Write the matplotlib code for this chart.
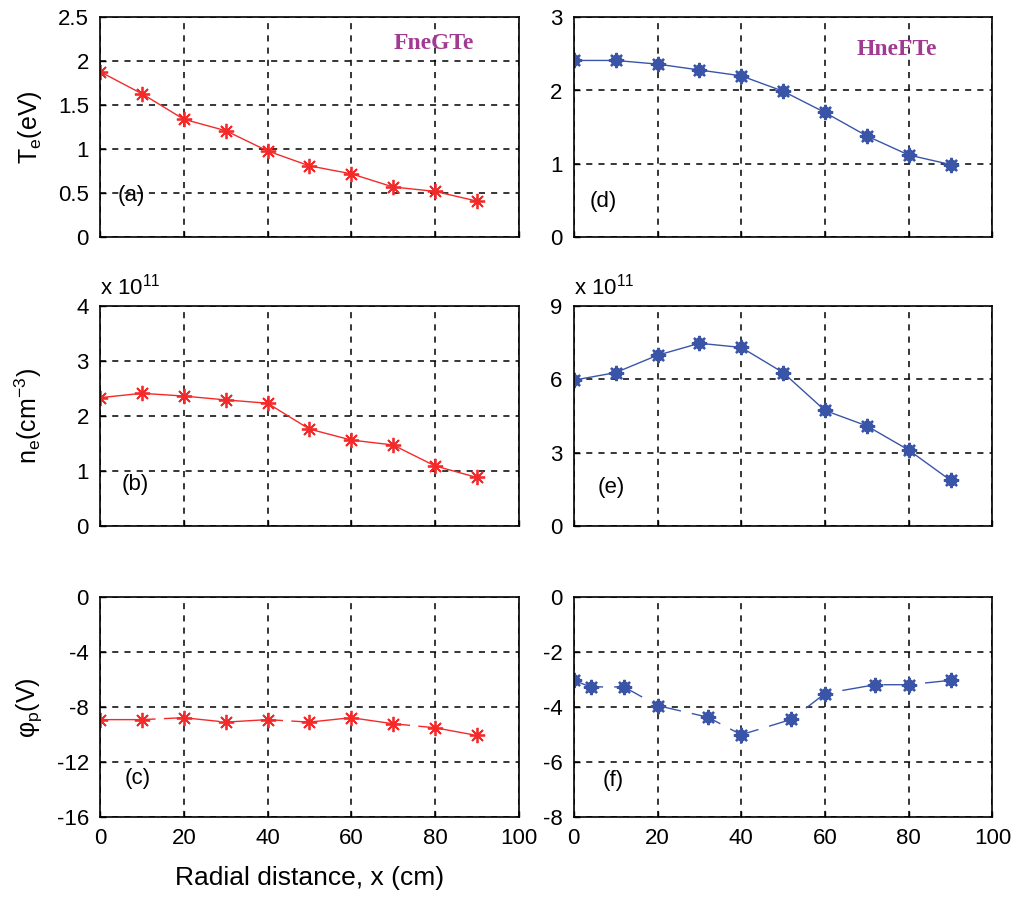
import numpy as np
import matplotlib
matplotlib.use("Agg")
import matplotlib.pyplot as plt

plt.rcParams['font.family'] = ['Liberation Sans', 'DejaVu Sans']
plt.rcParams['mathtext.fontset'] = 'custom'
plt.rcParams['mathtext.rm'] = 'Liberation Sans'
plt.rcParams['mathtext.it'] = 'Liberation Sans:italic'
plt.rcParams['axes.unicode_minus'] = False

# radial positions (cm)
x_left = [0, 10, 20, 30, 40, 50, 60, 70, 80, 90]
x_right = [0, 10, 20, 30, 40, 50, 60, 70, 80, 90]
x_phi_right = [0, 4, 12, 20, 32, 40, 52, 60, 72, 80, 90]

# FneGTe (left, red)
te_left = [1.88, 1.63, 1.34, 1.21, 0.98, 0.81, 0.72, 0.57, 0.52, 0.41]
ne_left = [2.33, 2.41, 2.36, 2.29, 2.23, 1.76, 1.56, 1.47, 1.09, 0.88]   # x 1e11
phi_left = [-8.9, -8.9, -8.76, -9.08, -8.9, -9.08, -8.76, -9.2, -9.49, -10.05]

# HneFTe (right, blue)
te_right = [2.41, 2.41, 2.36, 2.28, 2.20, 1.99, 1.70, 1.38, 1.12, 0.99]
ne_right = [5.96, 6.27, 6.98, 7.47, 7.30, 6.27, 4.72, 4.09, 3.10, 1.86]  # x 1e11
phi_right = [-3.02, -3.26, -3.26, -3.94, -4.36, -5.0, -4.44, -3.50, -3.18, -3.18, -3.02]

red = '#f42a2a'
blue = '#3a55a8'
magenta = '#a23a92'
asterisk = (8, 2, 0)

fig = plt.figure(figsize=(10.21, 9.05), dpi=100)

lefts = [0.098, 0.562]
width = 0.410
bottoms = [0.738, 0.419, 0.097]
height = 0.243

def make_ax(col, row):
    ax = fig.add_axes([lefts[col], bottoms[row], width, height])
    ax.set_xlim(0, 100)
    ax.set_xticks([0, 20, 40, 60, 80, 100])
    ax.grid(True, color='black', linestyle=(0, (4, 4)), linewidth=1.1)
    ax.set_axisbelow(True)
    ax.tick_params(direction='in', length=4, width=1, labelsize=16, pad=8)
    for s in ax.spines.values():
        s.set_linewidth(1.2)
    if row < 2:
        ax.set_xticklabels([])
    return ax

def panel_label(ax, txt, fx, fy):
    ax.text(fx, fy, txt, transform=ax.transAxes, ha='center', va='center',
            fontsize=16)

def red_line(ax, x, y, **kw):
    ax.plot(x, y, color=red, lw=1.0, marker=asterisk, ms=11, mew=1.3, **kw)

def blue_line(ax, x, y, **kw):
    ax.plot(x, y, color=blue, lw=1.0, marker='8', ms=8, **kw)
    ax.plot(x, y, color=blue, lw=0, marker=asterisk, ms=11, mew=1.6)

# (a)
ax = make_ax(0, 0)
red_line(ax, x_left, te_left)
ax.set_ylim(0, 2.5)
ax.set_yticks([0, 0.5, 1, 1.5, 2, 2.5])
ax.set_yticklabels(['0', '0.5', '1', '1.5', '2', '2.5'])
ax.set_ylabel(r'T$_\mathrm{e}$(eV)', fontsize=18)
ax.yaxis.set_label_coords(-0.135, 0.5)
panel_label(ax, '(a)', 0.075, 0.19)
ax.text(0.797, 0.88, 'FneGTe', transform=ax.transAxes, ha='center', va='center',
        fontsize=17, fontweight='bold', color=magenta,
        family=['Liberation Serif', 'DejaVu Serif'])

# (b)
ax = make_ax(0, 1)
red_line(ax, x_left, ne_left)
ax.set_ylim(0, 4)
ax.set_yticks([0, 1, 2, 3, 4])
ax.set_ylabel(r'n$_\mathrm{e}$(cm$^{-3}$)', fontsize=18)
ax.yaxis.set_label_coords(-0.135, 0.5)
ax.text(0.0, 1.09, r'x 10$^{11}$', transform=ax.transAxes, ha='left',
        va='center', fontsize=16)
panel_label(ax, '(b)', 0.085, 0.187)

# (c)
ax = make_ax(0, 2)
red_line(ax, x_left, phi_left, dashes=(40, 6))
ax.set_ylim(-16, 0)
ax.set_yticks([-16, -12, -8, -4, 0])
ax.set_ylabel(r'$\mathrm{φ}_\mathrm{p}$(V)', fontsize=18)
ax.yaxis.set_label_coords(-0.135, 0.5)
panel_label(ax, '(c)', 0.09, 0.177)
ax.set_xlabel('Radial distance, x (cm)', fontsize=19, labelpad=12)

# (d)
ax = make_ax(1, 0)
blue_line(ax, x_right, te_right)
ax.set_ylim(0, 3)
ax.set_yticks([0, 1, 2, 3])
panel_label(ax, '(d)', 0.07, 0.163)
ax.text(0.771, 0.855, 'HneFTe', transform=ax.transAxes, ha='center', va='center',
        fontsize=17, fontweight='bold', color=magenta,
        family=['Liberation Serif', 'DejaVu Serif'])

# (e)
ax = make_ax(1, 1)
blue_line(ax, x_right, ne_right)
ax.set_ylim(0, 9)
ax.set_yticks([0, 3, 6, 9])
ax.text(0.0, 1.09, r'x 10$^{11}$', transform=ax.transAxes, ha='left',
        va='center', fontsize=16)
panel_label(ax, '(e)', 0.09, 0.174)

# (f)
ax = make_ax(1, 2)
blue_line(ax, x_phi_right, phi_right, dashes=(22, 8))
ax.set_ylim(-8, 0)
ax.set_yticks([-8, -6, -4, -2, 0])
panel_label(ax, '(f)', 0.095, 0.166)

fig.savefig('out.png', dpi=100)
